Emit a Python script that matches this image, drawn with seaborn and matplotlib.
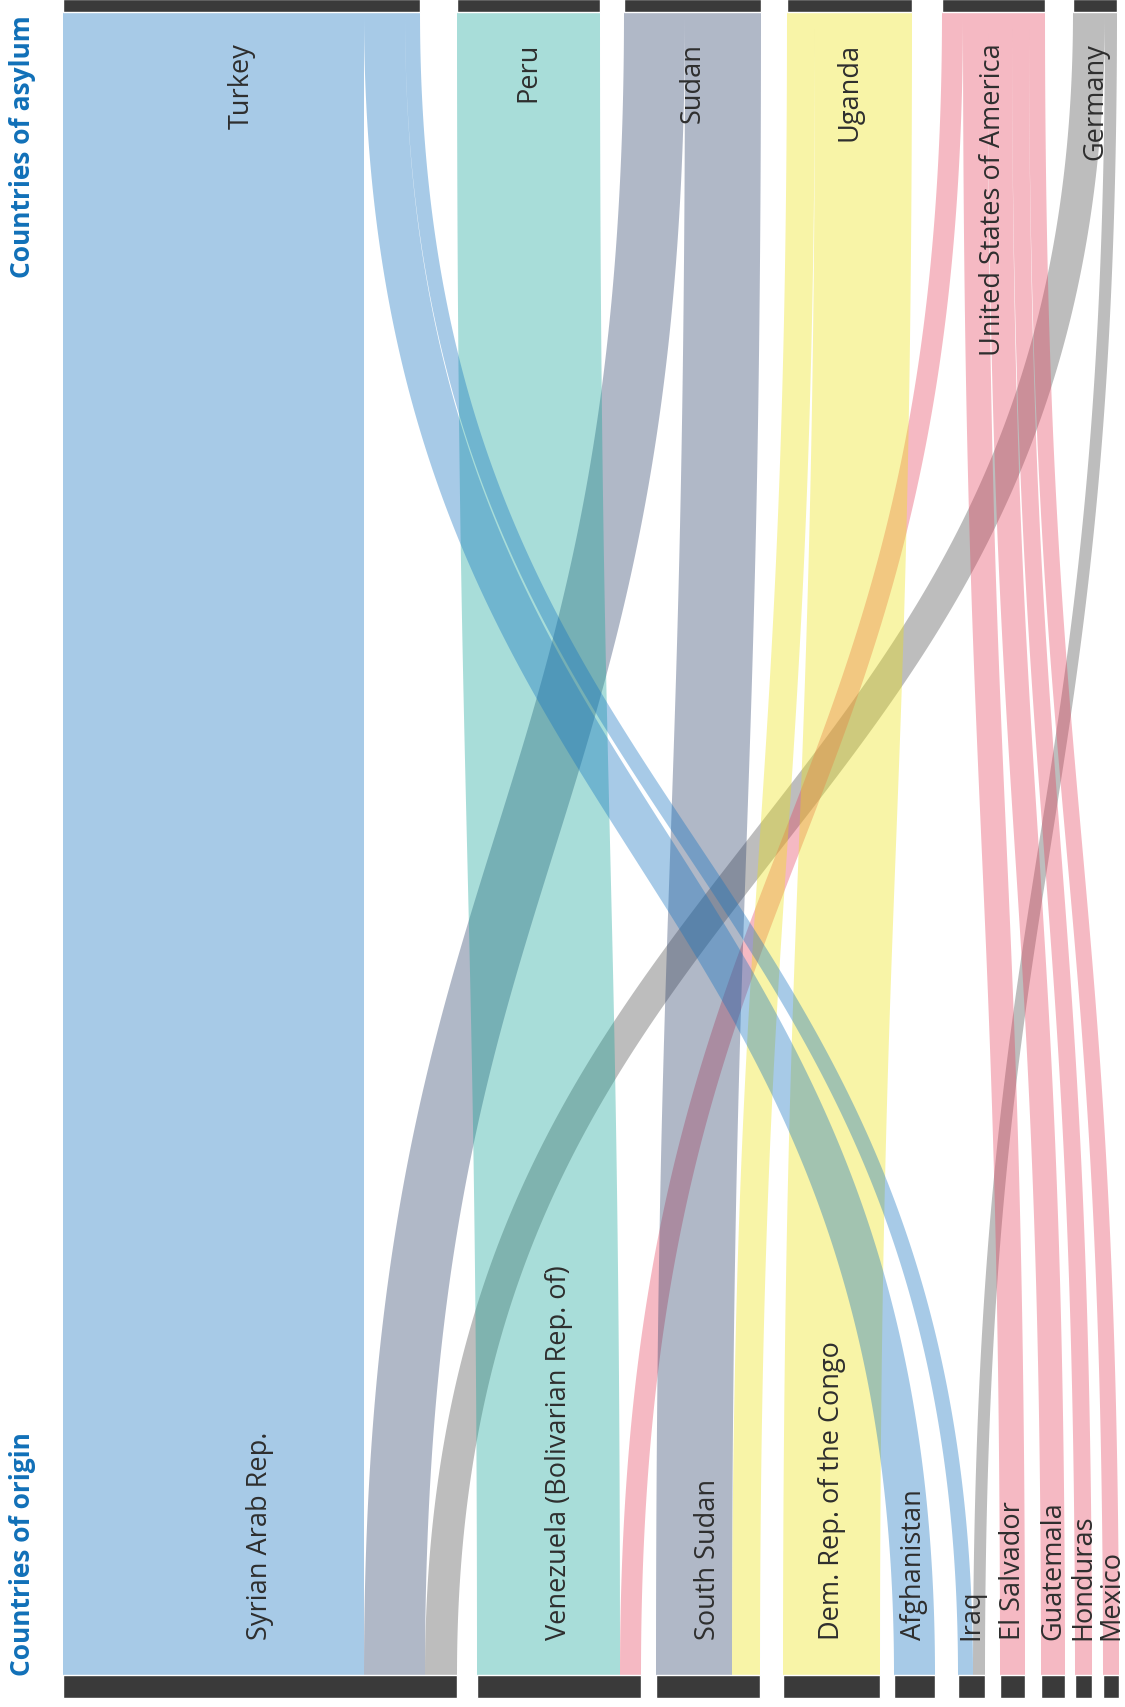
import numpy as np
import pandas as pd
import seaborn as sns
import matplotlib
matplotlib.use("Agg")
import matplotlib.pyplot as plt
from matplotlib.patches import Polygon

sns.set_theme(style="white")
plt.rcParams["font.family"] = ["Open Sans", "DejaVu Sans"]

# nodes, left to right
origins = [
    "Syrian Arab Rep.",
    "Venezuela (Bolivarian Rep. of)",
    "South Sudan",
    "Dem. Rep. of the Congo",
    "Afghanistan",
    "Iraq",
    "El Salvador",
    "Guatemala",
    "Honduras",
    "Mexico",
]
asylum_countries = [
    "Turkey",
    "Peru",
    "Sudan",
    "Uganda",
    "United States of America",
    "Germany",
]

# flows (origin -> asylum), sizes
flow_origin = [
    "Syrian Arab Rep.", "Syrian Arab Rep.", "Syrian Arab Rep.",
    "Venezuela (Bolivarian Rep. of)", "Venezuela (Bolivarian Rep. of)",
    "South Sudan", "South Sudan",
    "Dem. Rep. of the Congo",
    "Afghanistan",
    "Iraq", "Iraq",
    "El Salvador", "Guatemala", "Honduras", "Mexico",
]
flow_asylum = [
    "Turkey", "Sudan", "Germany",
    "Peru", "United States of America",
    "Sudan", "Uganda",
    "Uganda",
    "Turkey",
    "Turkey", "Germany",
    "United States of America", "United States of America",
    "United States of America", "United States of America",
]
flow_size = [301, 61, 32, 143, 21, 76, 28, 97, 41, 15, 12, 25, 24, 17, 16]

flows = pd.DataFrame({"origin": flow_origin, "asylum": flow_asylum, "size": flow_size})

# styling / layout
asylum_colors = {
    "Turkey": (16, 113, 192),
    "Peru": (21, 163, 152),
    "Sudan": (42, 63, 105),
    "Uganda": (237, 226, 16),
    "United States of America": (229, 66, 92),
    "Germany": (76, 76, 76),
}
ALPHA = 0.37
BAR_COLOR = "#3a3a3a"
TEXT_COLOR = "#2e2e2e"
TITLE_COLOR = "#1170b8"
LEFT = 63
top_gaps = [37, 24, 26, 30, 28]
bottom_gaps = [20, 15, 23, 14, 23, 15, 16, 10, 11]
Y_TOP = 13
Y_BOT = 1676
BOT_BAR_H = 23

W, H = 1125, 1708
fig = plt.figure(figsize=(W / 100, H / 100), dpi=100)
ax = fig.add_axes([0, 0, 1, 1])
ax.set_xlim(0, W)
ax.set_ylim(H, 0)
ax.axis("off")


def place(nodes, totals, gaps):
    pos, x = {}, LEFT
    for i, n in enumerate(nodes):
        pos[n] = x
        x += totals[n]
        if i < len(gaps):
            x += gaps[i]
    return pos


tot_o = flows.groupby("origin")["size"].sum()
tot_a = flows.groupby("asylum")["size"].sum()
pos_o = place(origins, tot_o, bottom_gaps)
pos_a = place(asylum_countries, tot_a, top_gaps)

flows["oi"] = flows["origin"].map(origins.index)
flows["ai"] = flows["asylum"].map(asylum_countries.index)

# offsets inside each node, ordered by the node at the other end
flows["xb"] = 0.0
flows["xt"] = 0.0
for node, grp in flows.sort_values("ai").groupby("origin", sort=False):
    x = pos_o[node]
    for idx, row in grp.iterrows():
        flows.loc[idx, "xb"] = x + row["size"] / 2
        x += row["size"]
for node, grp in flows.sort_values("oi").groupby("asylum", sort=False):
    x = pos_a[node]
    for idx, row in grp.iterrows():
        flows.loc[idx, "xt"] = x + row["size"] / 2
        x += row["size"]

t = np.linspace(0, 1, 300)[:, None]


def ribbon(xb, xt, w):
    ym = (Y_BOT + Y_TOP) / 2
    p0, p1 = np.array([xb, Y_BOT]), np.array([xb, ym])
    p2, p3 = np.array([xt, ym]), np.array([xt, Y_TOP])
    c = (1 - t) ** 3 * p0 + 3 * (1 - t) ** 2 * t * p1 + 3 * (1 - t) * t ** 2 * p2 + t ** 3 * p3
    d = 3 * (1 - t) ** 2 * (p1 - p0) + 6 * (1 - t) * t * (p2 - p1) + 3 * t ** 2 * (p3 - p2)
    n = np.hstack([-d[:, 1:2], d[:, 0:1]])
    n /= np.linalg.norm(n, axis=1, keepdims=True)
    left = c + n * w / 2
    right = c - n * w / 2
    return np.vstack([left, right[::-1]])


for _, row in flows.iterrows():
    col = np.array(asylum_colors[row["asylum"]]) / 255
    ax.add_patch(Polygon(ribbon(row["xb"], row["xt"], row["size"]),
                         closed=True, facecolor=col, alpha=ALPHA,
                         edgecolor="none", zorder=1))

# node bars
ax.bar([pos_a[n] for n in asylum_countries], Y_TOP,
       width=[tot_a[n] for n in asylum_countries], bottom=0,
       align="edge", color=BAR_COLOR, zorder=3)
ax.bar([pos_o[n] for n in origins], BOT_BAR_H,
       width=[tot_o[n] for n in origins], bottom=Y_BOT,
       align="edge", color=BAR_COLOR, zorder=3)

# labels
for n in asylum_countries:
    ax.text(pos_a[n] + tot_a[n] / 2, 43, n, rotation=90, ha="center", va="top",
            fontsize=19.5, color=TEXT_COLOR, zorder=4)
for n in origins:
    ax.text(pos_o[n] + tot_o[n] / 2, 1640, n, rotation=90, ha="center", va="bottom",
            fontsize=19.5, color=TEXT_COLOR, zorder=4)

ax.text(23, 15, "Countries of asylum", rotation=90, ha="center", va="top",
        fontsize=19, fontweight="bold", color=TITLE_COLOR)
ax.text(23, 1676, "Countries of origin", rotation=90, ha="center", va="bottom",
        fontsize=19, fontweight="bold", color=TITLE_COLOR)

fig.savefig("out.png", dpi=100)
